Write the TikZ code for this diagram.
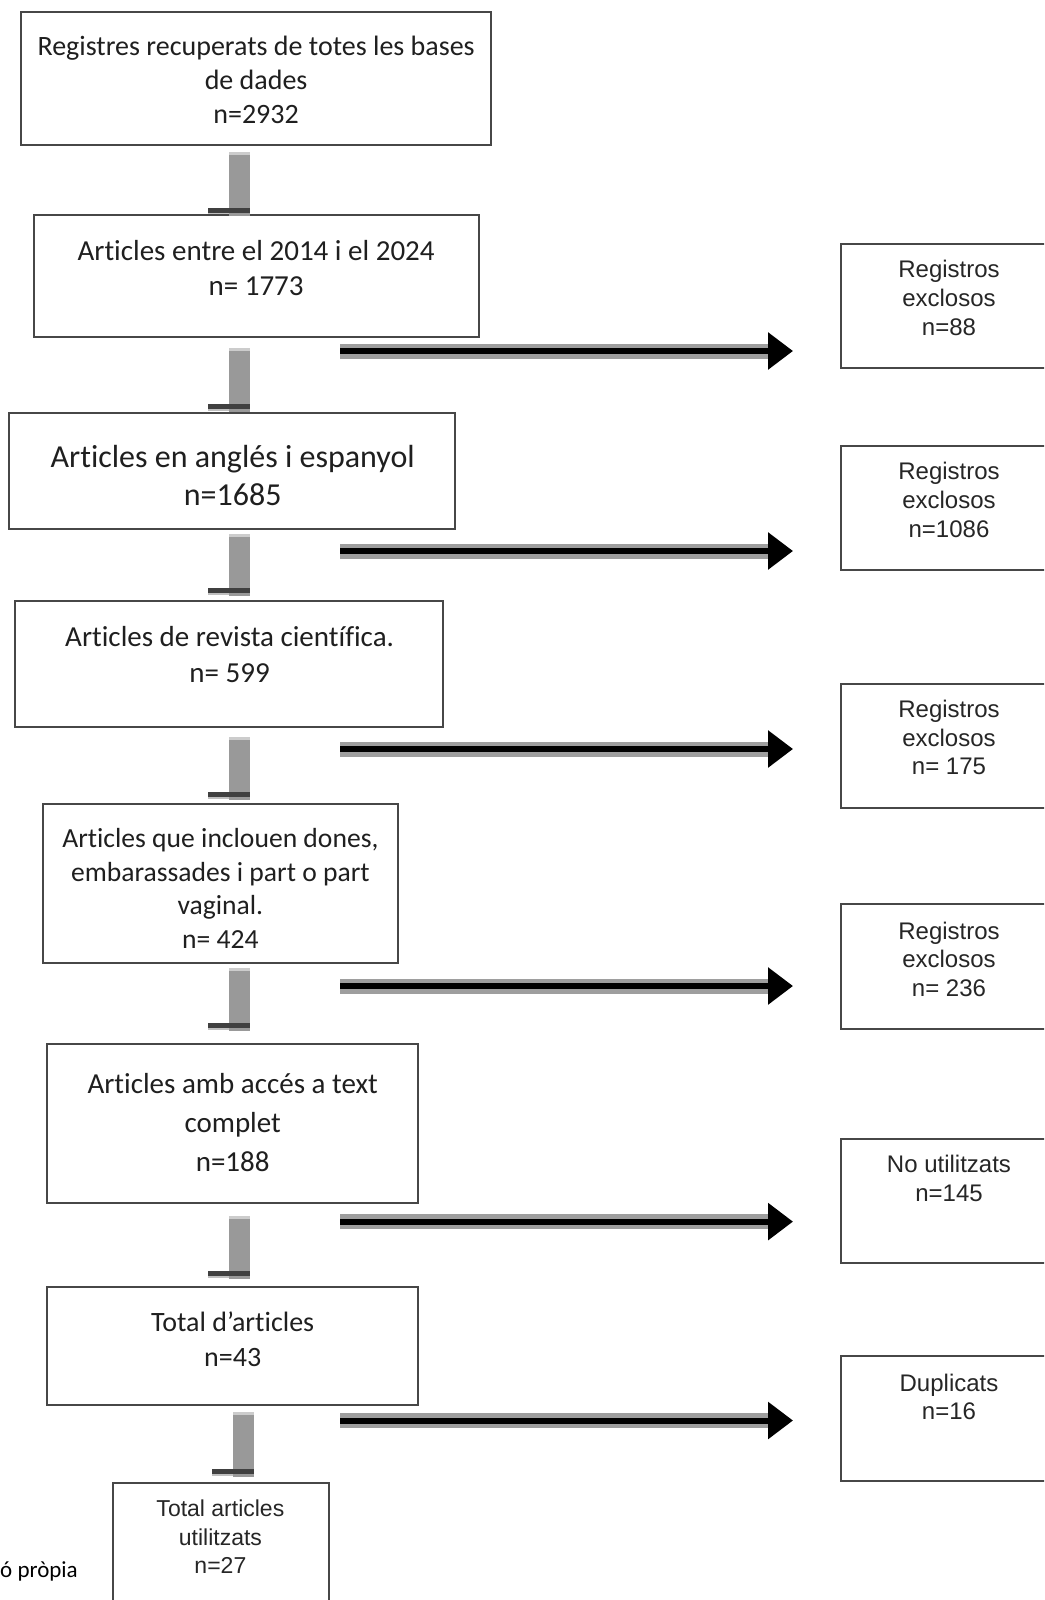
\documentclass[tikz,border=0pt]{standalone}
\usepackage{fontspec}
\setmainfont{Carlito}[Ligatures=NoCommon]
\newfontfamily\arialf{Liberation Sans}
\usetikzlibrary{arrows.meta}
\tikzset{
  box/.style={draw=black!72, line width=2pt, fill=white, inner sep=0pt},
  lt/.style={align=center, inner sep=0pt, text=black!88},
  rt/.style={align=center, inner sep=0pt, text=black!85, font=\arialf\fontsize{24}{28.6}\selectfont},
  band/.style={draw=black!38, line width=15pt},
  core/.style={draw=black, line width=6pt, -{Triangle[length=25pt,width=36pt]}},
}
\newcommand\vconn[3]{%
  \fill[black!40] (#1-10.2,#2) rectangle (#1+10.6,#3);
  \fill[black!20] (#1-10.2,#2) rectangle (#1+10.6,#2+2.5);
  \fill[black!75] (#1-31,#3-8) rectangle (#1+10.6,#3-3);
  \fill[black!25] (#1-31,#3-3) rectangle (#1-10.2,#3-1.2);
}
\begin{document}
\begin{tikzpicture}[x=1pt,y=-1pt]
\clip (0,0) rectangle (1044,1600);
\fill[white] (0,0) rectangle (1044,1600);
% left boxes
\node[box, minimum width=469.5pt, minimum height=132.7pt] (b1) at (256.1,78.5) {};
\node[box, minimum width=444.9pt, minimum height=121.5pt] (b2) at (256.1,276) {};
\node[box, minimum width=446pt, minimum height=115.3pt] (b3) at (232.2,471) {};
\node[box, minimum width=427.6pt, minimum height=125.6pt] (b4) at (229.1,663.8) {};
\node[box, minimum width=355.1pt, minimum height=159.4pt] (b5) at (220.4,883.7) {};
\node[box, minimum width=371.4pt, minimum height=159pt] (b6) at (232.7,1123.5) {};
\node[box, minimum width=371.4pt, minimum height=118pt] (b7) at (232.7,1346) {};
\node[box, minimum width=215.3pt, minimum height=140pt] (b8) at (221,1553) {};
\node[lt, font=\fontsize{28}{34.2}\selectfont] (t1) at (256.1,80) {Registres recuperats de totes les bases\\de dades\\n=2932};
\node[lt, font=\fontsize{29}{35.7}\selectfont] (t2) at (256.1,268) {Articles entre el 2014 i el 2024\\n= 1773};
\node[lt, font=\fontsize{32}{38.8}\selectfont] (t3) at (232.7,475.6) {Articles en anglés i espanyol\\n=1685};
\node[lt, font=\fontsize{29}{35.7}\selectfont] (t4) at (229.6,654.6) {Articles de revista científica.\\n= 599};
\node[lt, font=\fontsize{27.6}{33.7}\selectfont] (t5) at (220.4,888.4) {Articles que inclouen dones,\\embarassades i part o part\\vaginal.\\n= 424};
\node[lt, font=\fontsize{29}{38.8}\selectfont] (t6) at (232.7,1122.6) {Articles amb accés a text\\complet\\n=188};
\node[lt, font=\fontsize{28}{34.7}\selectfont] (t7) at (232.7,1339) {Total d’articles\\n=43};
\node[rt, font=\arialf\fontsize{23}{28.6}\selectfont] (t8) at (220.4,1537) {Total articles\\utilitzats\\n=27};
% right boxes
\node[box, minimum width=219pt, minimum height=124.4pt] (r1) at (950.5,306.2) {};
\node[box, minimum width=219pt, minimum height=124.4pt] (r2) at (950.5,508.2) {};
\node[box, minimum width=219pt, minimum height=124.4pt] (r3) at (950.5,745.9) {};
\node[box, minimum width=219pt, minimum height=124.4pt] (r4) at (950.5,966.3) {};
\node[box, minimum width=219pt, minimum height=124.4pt] (r5) at (950.5,1201.2) {};
\node[box, minimum width=219pt, minimum height=124.4pt] (r6) at (950.5,1418.5) {};
\node[rt] (s1) at (949,298) {Registros\\exclosos\\n=88};
\node[rt] (s2) at (949,500) {Registros\\exclosos\\n=1086};
\node[rt] (s3) at (949,737.8) {Registros\\exclosos\\n= 175};
\node[rt] (s4) at (949,959.3) {Registros\\exclosos\\n= 236};
\node[rt] (s5) at (949,1178.7) {No utilitzats\\n=145};
\node[rt] (s6) at (949,1397) {Duplicats\\n=16};
% vertical connectors
\vconn{239}{152}{215.5}
\vconn{239}{348}{412}
\vconn{239}{534}{596}
\vconn{239}{737}{800}
\vconn{239}{968}{1031}
\vconn{239}{1216}{1279}
\vconn{243}{1412}{1477}
% horizontal arrows
\foreach \i/\y in {1/351, 2/551, 3/749, 4/986, 5/1221.6, 6/1420.5} {
  \coordinate (as\i) at (340,\y);
  \coordinate (ab\i) at (770,\y);
  \coordinate (ae\i) at (793,\y);
  \draw[band] (as\i) -- (ab\i);
  \draw[core] (as\i) -- (ae\i);
}
% caption fragment
\node[anchor=west, inner sep=0pt, font=\fontsize{23}{28}\selectfont] (cap) at (0,1571.5) {ó pròpia};
\end{tikzpicture}
\end{document}
